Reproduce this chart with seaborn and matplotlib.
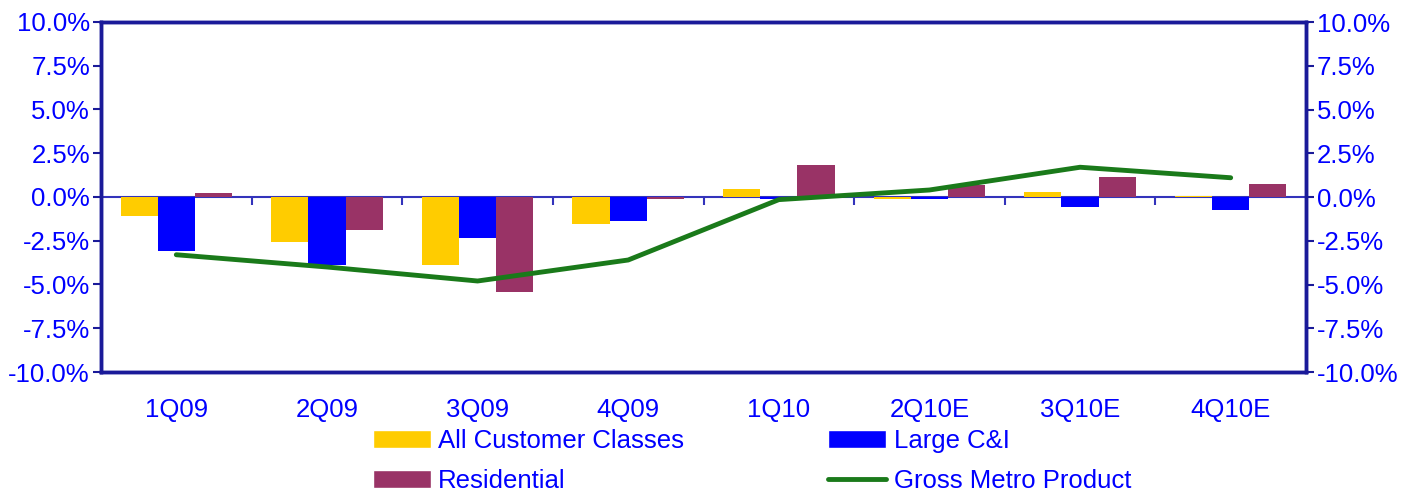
import numpy as np
import pandas as pd
import matplotlib
matplotlib.use("Agg")
import matplotlib.pyplot as plt
import seaborn as sns
from matplotlib.patches import Patch
from matplotlib.lines import Line2D
from matplotlib.ticker import FixedLocator

quarters = ["1Q09", "2Q09", "3Q09", "4Q09", "1Q10", "2Q10E", "3Q10E", "4Q10E"]
all_customers = [-1.1, -2.6, -3.9, -1.55, 0.45, -0.1, 0.3, 0.05]
large_ci = [-3.1, -3.9, -2.35, -1.35, -0.1, -0.1, -0.55, -0.75]
residential = [0.25, -1.9, -5.4, -0.1, 1.8, 0.7, 1.15, 0.75]
gross_metro = [-3.3, -4.0, -4.8, -3.6, -0.15, 0.4, 1.7, 1.1]
series_names = ["All Customer Classes", "Large C&I", "Residential"]
yticks = [-10.0, -7.5, -5.0, -2.5, 0.0, 2.5, 5.0, 7.5, 10.0]

colors = ["#FFCC00", "#0000FF", "#993366"]
line_color = "#1A7A1A"
text_color = "#0000FF"
frame_color = "#1A1A99"
zero_color = "#3333BB"
FS = 18.5

df = pd.DataFrame({
    "quarter": quarters * 3,
    "value": all_customers + large_ci + residential,
    "series": [s for s in series_names for _ in quarters],
})

sns.set_style("white")
plt.rcParams["font.family"] = ["Liberation Sans", "DejaVu Sans"]

fig = plt.figure(figsize=(14.21, 4.94), dpi=100)
ax = fig.add_axes([101 / 1421, 1 - 372 / 494, (1306 - 101) / 1421, 350 / 494])

sns.barplot(data=df, x="quarter", y="value", hue="series", order=quarters,
            hue_order=series_names, palette=colors, width=0.74, saturation=1,
            ax=ax, legend=False, linewidth=0)
sns.lineplot(x=np.arange(len(quarters)), y=gross_metro, color=line_color,
             linewidth=3.5, ax=ax)

ax.set_ylim(-10, 10)
ax.set_xlim(-0.5, len(quarters) - 0.5)
ax.set_yticks(yticks)
ax.set_yticklabels([f"{v:.1f}%" for v in yticks])
ax.set_xlabel("")
ax.set_ylabel("")
ax.tick_params(axis="y", direction="out", length=6, width=1.5, color=frame_color,
               labelcolor=text_color, labelsize=FS, pad=2, left=True)
ax.tick_params(axis="x", length=0, labelcolor=text_color, labelsize=FS, pad=19)
for sp in ax.spines.values():
    sp.set_color(frame_color)
    sp.set_linewidth(2.5)

# zero line with category boundary ticks
sec = ax.secondary_xaxis(0.5)
sec.xaxis.set_ticks_position("bottom")
sec.xaxis.set_major_locator(FixedLocator(np.arange(0.5, len(quarters) - 0.5, 1)))
sec.set_xticklabels([])
sec.tick_params(axis="x", which="both", direction="out", length=6, width=1.5,
                color=zero_color, bottom=True, top=False)
for sp in sec.spines.values():
    sp.set_color(zero_color)
    sp.set_linewidth(1.5)

ax2 = ax.twinx()
ax2.set_ylim(-10, 10)
ax2.set_yticks(yticks)
ax2.set_yticklabels([f"{v:.1f}%" for v in yticks])
ax2.tick_params(axis="y", direction="out", length=6, width=1.5, color=frame_color,
                labelcolor=text_color, labelsize=FS, pad=2, right=True)
for sp in ax2.spines.values():
    sp.set_color(frame_color)
    sp.set_linewidth(2.5)

handles = [
    Patch(facecolor=colors[0], label=series_names[0]),
    Patch(facecolor=colors[2], label=series_names[2]),
    Patch(facecolor=colors[1], label=series_names[1]),
    Line2D([0], [0], color=line_color, linewidth=3.5, label="Gross Metro Product"),
]
leg = fig.legend(handles=handles, ncol=2, loc="center",
                 bbox_to_anchor=(752 / 1421, 1 - 461 / 494), frameon=False,
                 fontsize=FS, handlelength=2.26, handleheight=0.65,
                 handletextpad=0.28, columnspacing=5.6, labelspacing=0.62)
for t in leg.get_texts():
    t.set_color(text_color)

fig.savefig("out.png", dpi=100)
